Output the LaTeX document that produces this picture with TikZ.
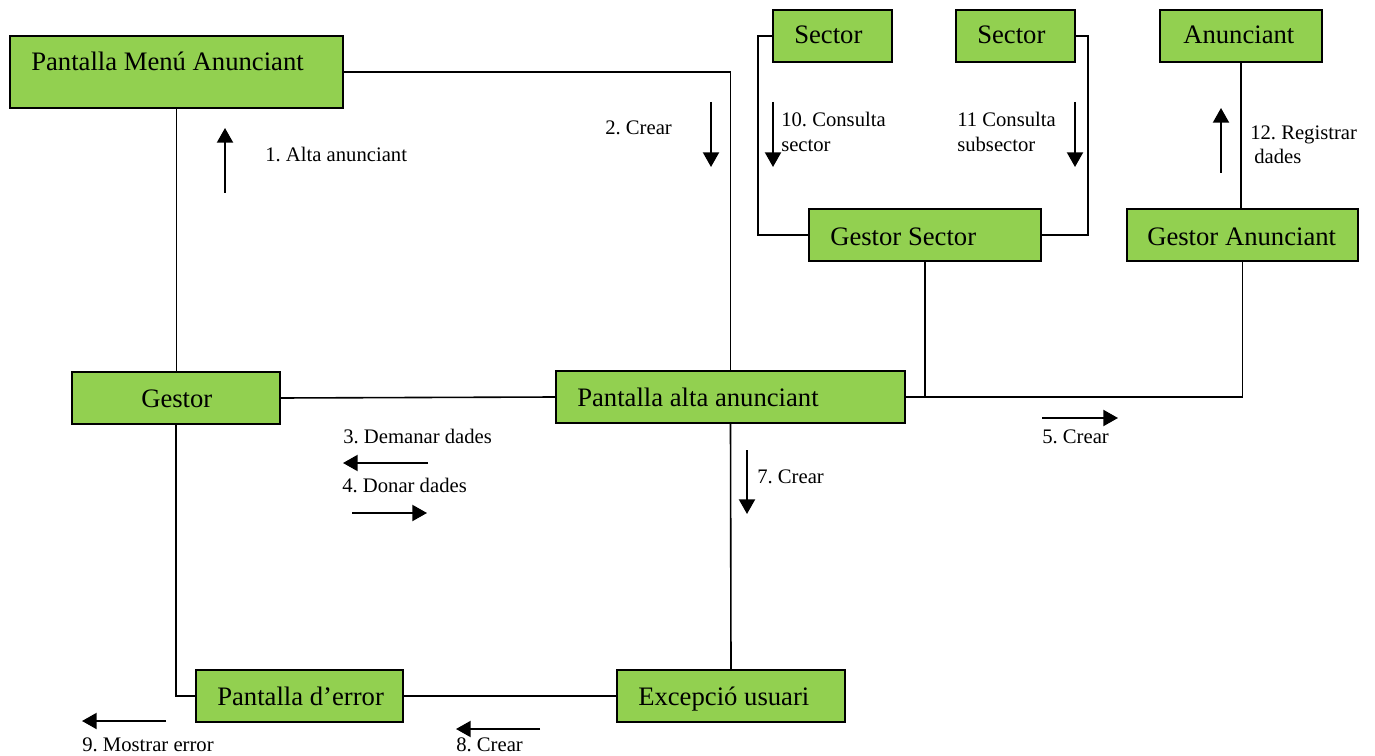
\documentclass[tikz,border=0pt]{standalone}
\usepackage{fontspec}
\setmainfont{Liberation Serif}
\usetikzlibrary{arrows.meta}
\definecolor{boxgreen}{HTML}{92D050}
\frenchspacing
\begin{document}
\begin{tikzpicture}[x=0.75pt,y=-0.75pt,
 box/.style={draw=black, fill=boxgreen, line width=1.5pt, inner sep=0pt, outer sep=0pt, minimum height=39pt},
 btxt/.style={anchor=base west, inner sep=0pt, font=\fontsize{20}{24}\selectfont},
 ltxt/.style={anchor=base west, inner sep=0pt, font=\fontsize{15.5}{18.75}\selectfont},
 conn/.style={line width=1.2pt},
 msg/.style={line width=1.5pt, -{Triangle[width=12pt,length=11pt]}}]
\useasboundingbox (0,0) rectangle (1375,756);

% boxes
\node[box, minimum width=249.75pt, minimum height=54pt] (menu) at (176.5,72) {};
\node[box, minimum width=89.25pt] (sec1) at (832.5,36) {};
\node[box, minimum width=89.25pt] (sec2) at (1015.5,36) {};
\node[box, minimum width=121.5pt] (anun) at (1241,36) {};
\node[box, minimum width=174pt] (gsec) at (925,235) {};
\node[box, minimum width=173.25pt] (ganun) at (1242.5,235) {};
\node[box, minimum width=156pt] (gestor) at (176,398) {};
\node[box, minimum width=261.75pt] (alta) at (730.5,397) {};
\node[box, minimum width=155.25pt] (err) at (299.5,696) {};
\node[box, minimum width=171pt] (exc) at (731,696) {};

% box texts
\node[btxt] (menu-t) at (31,71) {Pantalla Menú Anunciant};
\node[btxt] (sec1-t) at (794,44) {Sector};
\node[btxt] (sec2-t) at (977,44) {Sector};
\node[btxt] (anun-t) at (1183,44) {Anunciant};
\node[btxt] (gsec-t) at (830,245) {Gestor Sector};
\node[btxt] (ganun-t) at (1147,245) {Gestor Anunciant};
\node[btxt] (gestor-t) at (141,407) {Gestor};
\node[btxt] (alta-t) at (577,406) {Pantalla alta anunciant};
\node[btxt] (err-t) at (217,705) {Pantalla d’error};
\node[btxt] (exc-t) at (638,705) {Excepció usuari};

% connectors
\draw[conn] (menu.east) -| (alta.north);
\draw[conn] (menu.south) -- (menu.south |- gestor.north);
\draw[conn] (gestor.east) -- (alta.west);
\draw[conn] (gestor.south) |- (err.west);
\draw[conn] (err.east) -- (exc.west);
\draw[conn] (alta.south) -- (exc.north);
\draw[conn] (alta.east) -| (ganun.south);
\draw[conn] (gsec.south) -- (gsec.south |- alta.east);
\draw[conn] (sec1.west) -- ([xshift=-11.25pt]sec1.west) |- (gsec.west);
\draw[conn] (sec2.east) -- ([xshift=9.75pt]sec2.east) |- (gsec.east);
\draw[conn] (anun.south) -- (anun.south |- ganun.north);

% message arrows
\coordinate (m1a) at (225,193); \coordinate (m1b) at (225,128);
\coordinate (m2a) at (711,102); \coordinate (m2b) at (711,167);
\coordinate (m10a) at (773,102); \coordinate (m10b) at (773,167);
\coordinate (m11a) at (1075,102); \coordinate (m11b) at (1075,167);
\coordinate (m12a) at (1221,173); \coordinate (m12b) at (1221,108);
\coordinate (m3a) at (428,463); \coordinate (m3b) at (343,463);
\coordinate (m4a) at (352,513); \coordinate (m4b) at (427,513);
\coordinate (m5a) at (1042,418); \coordinate (m5b) at (1118,418);
\coordinate (m7a) at (747,450); \coordinate (m7b) at (747,514);
\coordinate (m8a) at (540,729); \coordinate (m8b) at (456,729);
\coordinate (m9a) at (166,721); \coordinate (m9b) at (82,721);
\foreach \m in {1,2,10,11,12,3,4,5,7,8,9}
  \draw[msg] (m\m a) -- (m\m b);

% labels
\node[ltxt] (l1) at (265,162) {1. Alta anunciant};
\node[ltxt] (l2) at (605,135) {2. Crear};
\node[ltxt] (l10a) at (781,127) {10. Consulta};
\node[ltxt] (l10b) at (781,152) {sector};
\node[ltxt] (l11a) at (957,127) {11 Consulta};
\node[ltxt] (l11b) at (957,152) {subsector};
\node[ltxt] (l12a) at (1250,140) {12. Registrar};
\node[ltxt] (l12b) at (1254,164) {dades};
\node[ltxt] (l3) at (343,443) {3. Demanar dades};
\node[ltxt] (l4) at (342,492) {4. Donar dades};
\node[ltxt] (l5) at (1042,443) {5. Crear};
\node[ltxt] (l7) at (757,483) {7. Crear};
\node[ltxt] (l8) at (456,751) {8. Crear};
\node[ltxt] (l9) at (82,751) {9. Mostrar error};
\end{tikzpicture}
\end{document}
